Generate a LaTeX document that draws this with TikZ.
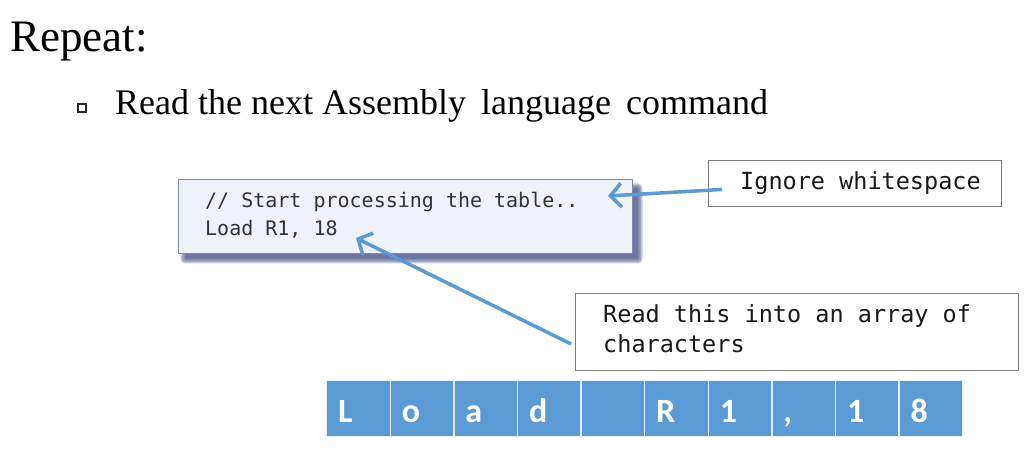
\documentclass[tikz,border=0pt]{standalone}
\usepackage{fontspec}
\setmainfont{Liberation Serif}
\newfontfamily\codefont{DejaVu Sans Mono}
\newfontfamily\cellfont{Carlito}
\usetikzlibrary{arrows.meta}
\definecolor{officeblue}{HTML}{5B9BD5}
\definecolor{codefill}{HTML}{F0F2FB}
\definecolor{codeedge}{HTML}{7F88A6}
\definecolor{shadowblue}{HTML}{3A4684}
\definecolor{boxedge}{HTML}{7A7A7A}
\tikzset{
  codebox/.style={draw=codeedge, line width=1pt, fill=codefill},
  softshadow/.style={fill=shadowblue, opacity=0.28},
  notebox/.style={draw=boxedge, line width=0.9pt, fill=white},
  codetext/.style={font=\codefont\fontsize{20}{28}\selectfont, text=black!80, anchor=base west, inner sep=0},
  notetext/.style={font=\codefont\fontsize{23.5}{30}\selectfont, text=black!90, anchor=base west, inner sep=0},
  cell/.style={draw=white!85!officeblue, line width=1.4pt, fill=officeblue, minimum width=63.6pt,
    minimum height=56pt, inner sep=0},
  celltext/.style={anchor=base west, inner sep=0, text=white,
    font=\cellfont\bfseries\fontsize{34}{34}\selectfont},
  pointer/.style={draw=officeblue, line width=3.5pt,
    -{Straight Barb[length=11pt, width=24pt, line width=3.5pt]}},
}
\begin{document}
\begin{tikzpicture}[x=1pt, y=-1pt]
  \useasboundingbox (0,0) rectangle (1030,454);
  \fill[white] (0,0) rectangle (1030,454);

  % heading and bullet
  \node[anchor=base west, inner sep=0, font=\fontsize{45}{50}\selectfont] (title) at (10,52) {Repeat:};
  \node[draw=black!85, line width=1.3pt, minimum size=8pt, inner sep=0] (bullet) at (82,108) {};
  \node[anchor=base west, inner sep=0, font=\fontsize{36}{40}\selectfont] (line) at (115,115)
    {Read the next Assembly\hspace{6pt} language\hspace{6pt} command};

  % soft shadow under the source code box
  \foreach \r in {0,1.5,3,4.5} {
    \fill[softshadow, rounded corners=\r pt] (185-\r,188-\r) rectangle (638+\r,259+\r);
  }
  % source code box
  \path[codebox] (178,180) rectangle (632,254);
  \node[codetext] (comment) at (205,208) {// Start processing the table..};
  \node[codetext] (load) at (205,236) {Load R1, 18};

  % note boxes
  \node[notebox, minimum width=293pt, minimum height=46pt, anchor=north west, inner sep=0] (ignore) at (708,160) {};
  \node[notetext] (ignoretext) at (740,190) {Ignore whitespace};
  \node[notebox, minimum width=443pt, minimum height=77pt, anchor=north west, inner sep=0] (readbox) at (575,293) {};
  \node[notetext] (readtext1) at (603,322) {Read this into an array of};
  \node[notetext] (readtext2) at (603,352) {characters};

  % pointers into the code
  \coordinate (tipA) at (608,196);
  \coordinate (tipB) at (356,238);
  \draw[pointer] ([xshift=14pt,yshift=-6pt]ignore.west) -- (tipA);
  \draw[pointer] ([xshift=-4pt,yshift=-12pt]readbox.west) -- (tipB);

  % character array
  \foreach \ch [count=\i from 0] in {L,o,a,d,{},R,1,{,},1,8} {
    \node[cell, anchor=north west] (c\i) at (326+63.6*\i,380) {};
    \node[celltext] (t\i) at (338+63.6*\i,422) {\ch};
  }
\end{tikzpicture}
\end{document}
